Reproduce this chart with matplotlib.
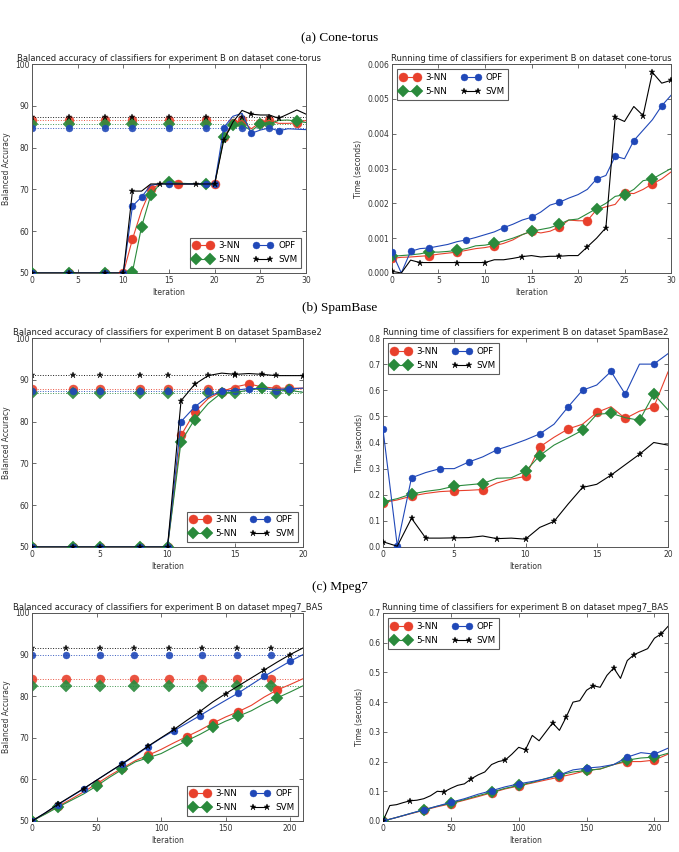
import numpy as np
import matplotlib
matplotlib.use("Agg")
import matplotlib.pyplot as plt

# ---- (a) cone-torus ----
ct_iter = np.arange(31)
ct_acc_3nn = [50, 50, 50, 50, 50, 50, 50, 50, 50, 50, 50, 58.1, 65.0, 70.0, 71.3, 71.8, 71.3, 71.3, 71.3, 71.3,
              71.3, 82.5, 85.8, 86.5, 84.5, 86.0, 86.5, 85.8, 85.8, 85.9, 86.5]
ct_acc_5nn = [50, 50, 50, 50, 50, 50, 50, 50, 50, 50, 50, 50.3, 61.1, 68.6, 71.3, 71.8, 71.5, 71.4, 71.3, 71.3,
              71.3, 82.5, 85.3, 85.6, 84.0, 85.6, 85.7, 86.5, 86.6, 86.3, 86.0]
ct_acc_opf = [50, 50, 50, 50, 50, 50, 50, 50, 50, 50, 50, 66.0, 68.2, 71.0, 71.3, 71.3, 71.3, 71.3, 71.3, 71.3,
              71.3, 84.8, 87.5, 88.2, 83.4, 84.2, 84.7, 84.0, 84.5, 84.4, 84.3]
ct_acc_svm = [50, 50, 50, 50, 50, 50, 50, 50, 50, 50, 50, 69.6, 69.6, 71.3, 71.3, 71.3, 71.3, 71.3, 71.3, 71.3,
              71.3, 81.8, 86.1, 88.9, 88.0, 87.8, 87.8, 87.0, 88.0, 89.0, 88.0]
ct_base = {"3-NN": 86.5, "5-NN": 85.6, "OPF": 84.6, "SVM": 87.3}

ct_time_3nn = [0.00042, 0.00045, 0.00046, 0.00048, 0.0005, 0.00054, 0.00057, 0.0006, 0.00065, 0.0007, 0.00073,
               0.00078, 0.00085, 0.00095, 0.0011, 0.0012, 0.00115, 0.0012, 0.00132, 0.00152, 0.0015, 0.0015,
               0.00182, 0.0019, 0.00197, 0.0023, 0.00228, 0.0024, 0.00256, 0.0027, 0.0029]
ct_time_5nn = [0.00048, 0.0005, 0.00052, 0.00055, 0.0006, 0.0006, 0.00062, 0.00065, 0.0007, 0.00078, 0.0008,
               0.00085, 0.00092, 0.001, 0.0011, 0.0012, 0.00125, 0.0013, 0.0014, 0.00152, 0.00155, 0.0017,
               0.00185, 0.002, 0.0022, 0.00225, 0.0024, 0.00265, 0.0027, 0.00285, 0.003]
ct_time_opf = [0.0006, 0.0, 0.00062, 0.0007, 0.00072, 0.00077, 0.00082, 0.0009, 0.00095, 0.00102, 0.0011,
               0.00118, 0.0013, 0.0014, 0.00152, 0.0016, 0.00175, 0.00195, 0.00203, 0.00215, 0.00225, 0.0024,
               0.0027, 0.0028, 0.00335, 0.00328, 0.0038, 0.0041, 0.0044, 0.0048, 0.0051]
ct_time_svm = [0.00005, 0.0, 0.00037, 0.0003, 0.0003, 0.0003, 0.0003, 0.0003, 0.0003, 0.0003, 0.0003,
               0.00038, 0.00038, 0.00042, 0.00047, 0.0005, 0.00046, 0.00048, 0.00048, 0.0005, 0.0005, 0.00075,
               0.001, 0.0013, 0.00447, 0.00435, 0.00478, 0.00452, 0.00576, 0.00545, 0.00553]

# ---- (b) SpamBase ----
sb_iter = np.arange(21)
sb_acc_3nn = [50, 50, 50, 50, 50, 50, 50, 50, 50, 50, 50, 76.7, 82.2, 85.5, 87.2, 88.3, 89.0, 88.3, 88.0, 88.0, 88.0]
sb_acc_5nn = [50, 50, 50, 50, 50, 50, 50, 50, 50, 50, 50, 75.2, 80.5, 84.3, 86.9, 87.0, 87.5, 88.0, 87.5, 87.5, 87.0]
sb_acc_opf = [50, 50, 50, 50, 50, 50, 50, 50, 50, 50, 50, 80.0, 83.5, 86.0, 87.3, 87.5, 87.9, 87.9, 87.7, 87.8, 88.0]
sb_acc_svm = [50, 50, 50, 50, 50, 50, 50, 50, 50, 50, 50, 85.0, 88.9, 91.0, 91.6, 91.3, 91.5, 91.3, 91.0, 91.0, 91.0]
sb_base = {"3-NN": 87.9, "5-NN": 86.9, "OPF": 87.3, "SVM": 91.1}

sb_time_3nn = [0.17, 0.18, 0.195, 0.205, 0.212, 0.215, 0.217, 0.22, 0.245, 0.26, 0.27, 0.383, 0.42, 0.452,
               0.47, 0.515, 0.537, 0.492, 0.52, 0.535, 0.67]
sb_time_5nn = [0.173, 0.185, 0.203, 0.213, 0.22, 0.233, 0.238, 0.243, 0.263, 0.265, 0.29, 0.35, 0.39, 0.418,
               0.447, 0.508, 0.512, 0.495, 0.485, 0.585, 0.525]
sb_time_opf = [0.45, 0.005, 0.265, 0.285, 0.3, 0.3, 0.325, 0.345, 0.372, 0.39, 0.41, 0.433, 0.47, 0.537,
               0.6, 0.62, 0.672, 0.585, 0.7, 0.7, 0.74]
sb_time_svm = [0.02, 0.003, 0.11, 0.034, 0.034, 0.035, 0.036, 0.042, 0.032, 0.034, 0.03, 0.075, 0.098, 0.165,
               0.228, 0.24, 0.275, 0.315, 0.355, 0.4, 0.39]

# ---- (c) Mpeg7 ----
mp_iter = np.arange(0, 211, 10)
mp_acc_3nn = [50, 51.7, 53.5, 55.2, 57.0, 58.9, 60.9, 62.7, 64.5, 65.8, 67.2, 68.8, 70.3, 71.8, 73.5, 75.0,
              76.3, 77.8, 79.8, 81.5, 82.8, 84.2]
mp_acc_5nn = [50, 51.6, 53.3, 54.9, 56.5, 58.4, 60.5, 62.4, 64.2, 65.2, 66.2, 67.8, 69.3, 70.8, 72.5, 74.0,
              75.2, 76.5, 78.2, 79.6, 81.0, 82.5]
mp_acc_opf = [50, 51.9, 53.9, 55.8, 57.7, 59.8, 61.8, 63.7, 65.7, 67.9, 69.9, 71.7, 73.5, 75.3, 77.2, 79.0,
              80.8, 82.8, 84.8, 86.6, 88.4, 90.0]
mp_acc_svm = [50, 51.9, 54.0, 55.9, 57.8, 59.8, 61.8, 63.8, 65.9, 68.0, 70.0, 72.0, 74.2, 76.3, 78.6, 80.6,
              82.5, 84.4, 86.3, 88.2, 90.0, 91.6]
mp_base = {"3-NN": 84.2, "5-NN": 82.4, "OPF": 89.8, "SVM": 91.5}

mp_time_3nn = [0.0, 0.012, 0.024, 0.036, 0.048, 0.058, 0.07, 0.082, 0.095, 0.108, 0.118, 0.128, 0.138, 0.148,
               0.158, 0.17, 0.175, 0.19, 0.2, 0.2, 0.205, 0.225]
mp_time_5nn = [0.0, 0.012, 0.025, 0.037, 0.05, 0.06, 0.072, 0.085, 0.097, 0.11, 0.12, 0.13, 0.143, 0.155,
               0.165, 0.17, 0.175, 0.19, 0.205, 0.212, 0.215, 0.228]
mp_time_opf = [0.0, 0.012, 0.025, 0.038, 0.05, 0.063, 0.075, 0.09, 0.102, 0.115, 0.125, 0.133, 0.142, 0.155,
               0.172, 0.178, 0.182, 0.19, 0.215, 0.23, 0.225, 0.245]
mp_svm_iter = np.arange(0, 211, 5)
mp_time_svm = [0.0, 0.052, 0.055, 0.062, 0.068, 0.07, 0.075, 0.085, 0.1, 0.098, 0.11, 0.12, 0.125, 0.142,
               0.155, 0.165, 0.19, 0.2, 0.205, 0.225, 0.248, 0.24, 0.288, 0.27, 0.3, 0.33, 0.305, 0.35, 0.4,
               0.405, 0.44, 0.455, 0.45, 0.49, 0.515, 0.48, 0.54, 0.56, 0.57, 0.58, 0.615, 0.63, 0.655]

names = ["3-NN", "5-NN", "OPF", "SVM"]
colors = {"3-NN": "#e8402c", "5-NN": "#2a8a3c", "OPF": "#2048b8", "SVM": "black"}
markers = {"3-NN": "o", "5-NN": "D", "OPF": "o", "SVM": "*"}
msizes = {"3-NN": 6.5, "5-NN": 6.0, "OPF": 5.0, "SVM": 5.0}

plt.rcParams["font.family"] = "DejaVu Sans"
plt.rcParams["font.size"] = 5.5
plt.rcParams["legend.numpoints"] = 2

fig = plt.figure(figsize=(6.79, 8.52), dpi=100)
W, H = 679.0, 852.0


def add_axes(x0, y0, x1, y1):
    return fig.add_axes([x0 / W, 1 - y1 / H, (x1 - x0) / W, (y1 - y0) / H])


def style(ax, xlim, ylim, xticks, yticks, fmt, title, ylabel, loc):
    ax.set_xlim(*xlim)
    ax.set_ylim(*ylim)
    ax.set_xticks(xticks)
    ax.set_yticks(yticks)
    ax.set_yticklabels([fmt.format(v) for v in yticks])
    ax.tick_params(direction="in", top=True, right=True, length=3, width=0.5,
                   labelsize=5.5, colors="#333333", pad=2)
    for s in ax.spines.values():
        s.set_color("#555555")
        s.set_linewidth(0.7)
    ax.set_title(title, fontsize=6.0, color="#222222", pad=2)
    ax.set_xlabel("Iteration", fontsize=5.5, color="#333333", labelpad=2)
    ax.set_ylabel(ylabel, fontsize=5.5, color="#333333", labelpad=3)
    leg = ax.legend(loc=loc, ncol=2, fontsize=6.3, frameon=True, fancybox=False,
                    borderpad=0.4, handlelength=2.2, columnspacing=1.6, labelspacing=0.6,
                    handletextpad=0.6, borderaxespad=0.6)
    leg.get_frame().set_edgecolor("#333333")
    leg.get_frame().set_linewidth(0.8)


def plot_curves(ax, x, series, base=None, base_x=None):
    for n in names:
        xs = x[n] if isinstance(x, dict) else x
        ax.plot(xs, series[n], color=colors[n], marker=markers[n], markersize=msizes[n],
                markeredgewidth=0.3, markeredgecolor=colors[n], linewidth=0.8,
                markevery=0.1, label=n, zorder=3)
    if base is not None:
        for n in names:
            ax.plot(base_x, np.full(len(base_x), base[n]), color=colors[n], linestyle=":",
                    marker=markers[n], markersize=msizes[n], markeredgewidth=0.3,
                    markeredgecolor=colors[n], linewidth=0.7, markevery=0.1, alpha=0.9, zorder=2)


# (a)
fig.text(0.5, 1 - 38 / H, "(a) Cone-torus", ha="center", va="center",
         fontsize=9.5, family="Liberation Serif")
ax = add_axes(32, 64, 306, 273)
plot_curves(ax, ct_iter, {"3-NN": ct_acc_3nn, "5-NN": ct_acc_5nn, "OPF": ct_acc_opf, "SVM": ct_acc_svm},
            ct_base, ct_iter)
style(ax, (0, 30), (50, 100), range(0, 31, 5), list(range(50, 101, 10)), "{:d}",
      "Balanced accuracy of classifiers for experiment B on dataset cone-torus",
      "Balanced Accuracy", "lower right")

ax = add_axes(392, 64, 671, 273)
plot_curves(ax, ct_iter, {"3-NN": ct_time_3nn, "5-NN": ct_time_5nn, "OPF": ct_time_opf, "SVM": ct_time_svm})
style(ax, (0, 30), (0, 0.006), range(0, 31, 5), [i * 0.001 for i in range(7)], "{:.3f}",
      "Running time of classifiers for experiment B on dataset cone-torus",
      "Time (seconds)", "upper left")

# (b)
fig.text(0.5, 1 - 308 / H, "(b) SpamBase", ha="center", va="center",
         fontsize=9.5, family="Liberation Serif")
ax = add_axes(32, 338, 303, 547)
plot_curves(ax, sb_iter, {"3-NN": sb_acc_3nn, "5-NN": sb_acc_5nn, "OPF": sb_acc_opf, "SVM": sb_acc_svm},
            sb_base, sb_iter)
style(ax, (0, 20), (50, 100), range(0, 21, 5), list(range(50, 101, 10)), "{:d}",
      "Balanced accuracy of classifiers for experiment B on dataset SpamBase2",
      "Balanced Accuracy", "lower right")

ax = add_axes(383, 338, 668, 547)
plot_curves(ax, sb_iter, {"3-NN": sb_time_3nn, "5-NN": sb_time_5nn, "OPF": sb_time_opf, "SVM": sb_time_svm})
style(ax, (0, 20), (0, 0.8), range(0, 21, 5), [i * 0.1 for i in range(9)], "{:.1f}",
      "Running time of classifiers for experiment B on dataset SpamBase2",
      "Time (seconds)", "upper left")

# (c)
fig.text(0.5, 1 - 587 / H, "(c) Mpeg7", ha="center", va="center",
         fontsize=9.5, family="Liberation Serif")
ax = add_axes(32, 613, 303, 821)
plot_curves(ax, mp_iter, {"3-NN": mp_acc_3nn, "5-NN": mp_acc_5nn, "OPF": mp_acc_opf, "SVM": mp_acc_svm},
            mp_base, np.arange(211))
style(ax, (0, 210), (50, 100), range(0, 201, 50), list(range(50, 101, 10)), "{:d}",
      "Balanced accuracy of classifiers for experiment B on dataset mpeg7_BAS",
      "Balanced Accuracy", "lower right")

ax = add_axes(383, 613, 668, 821)
plot_curves(ax, {"3-NN": mp_iter, "5-NN": mp_iter, "OPF": mp_iter, "SVM": mp_svm_iter},
            {"3-NN": mp_time_3nn, "5-NN": mp_time_5nn, "OPF": mp_time_opf, "SVM": mp_time_svm})
style(ax, (0, 210), (0, 0.7), range(0, 201, 50), [i * 0.1 for i in range(8)], "{:.1f}",
      "Running time of classifiers for experiment B on dataset mpeg7_BAS",
      "Time (seconds)", "upper left")

fig.savefig("out.png", dpi=100, facecolor="white")
